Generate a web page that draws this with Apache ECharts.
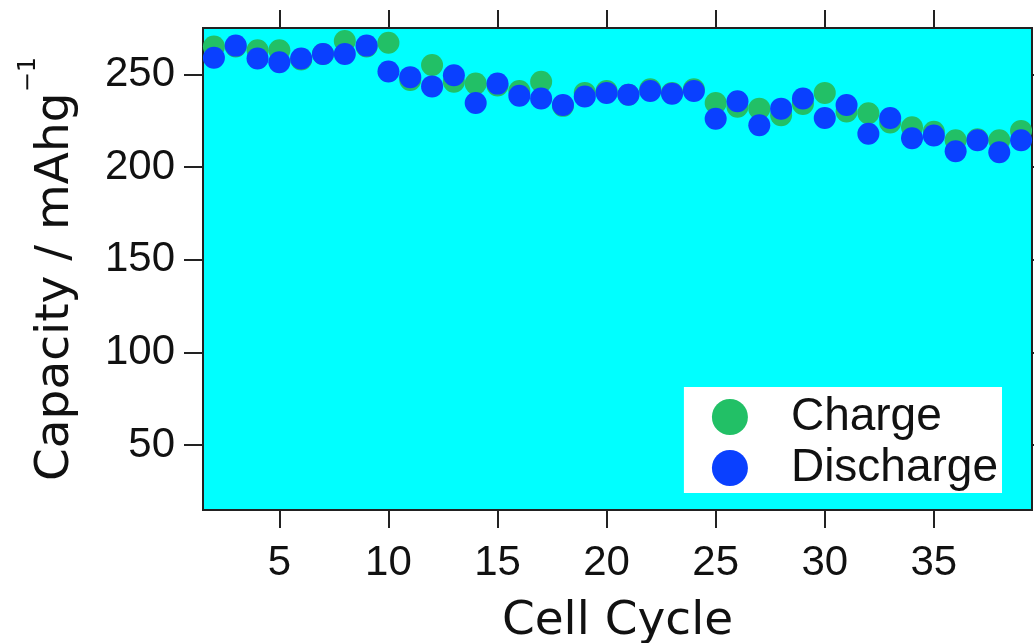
<!DOCTYPE html>
<html>
<head>
<meta charset="utf-8">
<script src="https://cdn.jsdelivr.net/npm/echarts@6/dist/echarts.min.js"></script>
<style>
  html, body { margin: 0; padding: 0; background: #ffffff; }
  #main { width: 1034px; height: 643px; }
</style>
</head>
<body>
<div id="main"></div>
<script>
// cycle numbers
const cycles = [2, 3, 4, 5, 6, 7, 8, 9, 10, 11, 12, 13, 14, 15, 16, 17, 18, 19, 20,
  21, 22, 23, 24, 25, 26, 27, 28, 29, 30, 31, 32, 33, 34, 35, 36, 37, 38, 39];
// charge capacity (mAh/g)
const charge = [265, 265, 263, 263, 258, 261, 268, 265, 267, 247, 255, 246, 245, 244,
  241, 246, 233, 240, 241, 239, 242, 240, 242, 234.5, 232.5, 231.5, 228, 234, 240,
  230, 229, 224, 221.5, 219, 214.5, 215, 214.5, 219.5];
// discharge capacity (mAh/g)
const discharge = [259, 265.5, 258.5, 256.5, 258.5, 261, 261, 265.5, 251.5, 248.5,
  243.5, 249.5, 234.5, 245, 238.5, 237, 233.5, 238, 240, 239, 241, 239.5, 241, 226,
  235.5, 222.5, 231.5, 237, 226.5, 233.5, 218, 226.5, 215.5, 217, 208.5, 214.5, 208,
  214.5];
const xTicks = [5, 10, 15, 20, 25, 30, 35];
const yTicks = [50, 100, 150, 200, 250];

function pairs(ys) {
  return cycles.map(function (c, i) { return [c, ys[i]]; });
}

const chart = echarts.init(document.getElementById('main'));
const axisCol = '#222222';
const tickFont = { fontFamily: 'Liberation Sans', fontSize: 42, color: '#111111' };

const option = {
  backgroundColor: '#ffffff',
  animation: false,
  grid: {
    left: 203, top: 28, right: 2, bottom: 133,
    outerBoundsMode: 'none',
    show: true,
    backgroundColor: '#00ffff',
    borderColor: axisCol,
    borderWidth: 2
  },
  legend: {
    right: 32,
    top: 387,
    orient: 'vertical',
    backgroundColor: '#ffffff',
    padding: [5, 4, 0, 28],
    itemGap: 1,
    itemWidth: 36,
    itemHeight: 36,
    icon: 'circle',
    textStyle: {
      fontFamily: 'Liberation Sans',
      fontSize: 46,
      lineHeight: 50,
      color: '#111111',
      padding: [0, 0, 0, 38]
    },
    data: ['Charge', 'Discharge']
  },
  xAxis: [
    {
      type: 'value',
      min: 1.5,
      max: 39.5,
      position: 'bottom',
      name: 'Cell Cycle',
      nameLocation: 'middle',
      nameGap: 88,
      nameTextStyle: { fontFamily: 'DejaVu Sans', fontSize: 47, color: '#111111' },
      axisLine: { lineStyle: { color: axisCol, width: 2 } },
      axisTick: { customValues: xTicks, length: 18, lineStyle: { color: axisCol, width: 2 } },
      axisLabel: Object.assign({ customValues: xTicks, margin: 32 }, tickFont),
      splitLine: { show: false }
    },
    {
      type: 'value',
      min: 1.5,
      max: 39.5,
      position: 'top',
      axisLine: { lineStyle: { color: axisCol, width: 2 } },
      axisTick: { customValues: xTicks, length: 18, lineStyle: { color: axisCol, width: 2 } },
      axisLabel: { show: false },
      splitLine: { show: false }
    }
  ],
  yAxis: [
    {
      type: 'value',
      min: 15,
      max: 275,
      position: 'left',
      name: '{a|Capacity / mAhg}{s|−1}',
      nameLocation: 'middle',
      nameRotate: 90,
      nameGap: 124,
      nameTextStyle: {
        rich: {
          a: { fontFamily: 'DejaVu Sans', fontSize: 47, color: '#111111', lineHeight: 62, verticalAlign: 'bottom' },
          s: { fontFamily: 'DejaVu Sans', fontSize: 24, color: '#111111', lineHeight: 62, verticalAlign: 'top' }
        }
      },
      axisLine: { lineStyle: { color: axisCol, width: 2 } },
      axisTick: { customValues: yTicks, length: 19, lineStyle: { color: axisCol, width: 2 } },
      axisLabel: Object.assign({ customValues: yTicks, margin: 28 }, tickFont),
      splitLine: { show: false }
    },
    {
      type: 'value',
      min: 15,
      max: 275,
      position: 'right',
      axisLine: { lineStyle: { color: axisCol, width: 2 } },
      axisTick: { customValues: yTicks, length: 19, lineStyle: { color: axisCol, width: 2 } },
      axisLabel: { show: false },
      splitLine: { show: false }
    }
  ],
  series: [
    {
      name: 'Charge',
      type: 'scatter',
      symbol: 'circle',
      symbolSize: 22,
      itemStyle: { color: '#22c066', opacity: 1 },
      data: pairs(charge)
    },
    {
      name: 'Discharge',
      type: 'scatter',
      symbol: 'circle',
      symbolSize: 22,
      itemStyle: { color: '#0a40ff', opacity: 1 },
      data: pairs(discharge)
    }
  ]
};
chart.setOption(option);
</script>
</body>
</html>
